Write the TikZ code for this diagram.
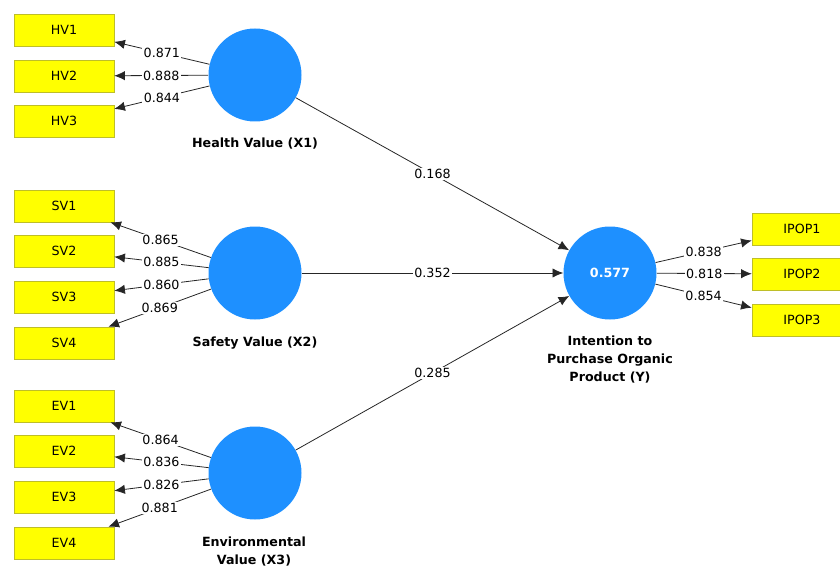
\documentclass[tikz,border=0pt]{standalone}
\usepackage{fontspec}
\setmainfont{DejaVu Sans}
\usepackage{tikz}
\usetikzlibrary{positioning,arrows.meta}
\definecolor{lvblue}{RGB}{30,144,255}
\definecolor{mvyellow}{RGB}{255,255,0}
\definecolor{mvedge}{RGB}{190,190,40}

\begin{document}
\begin{tikzpicture}[x=0.75pt,y=-0.75pt,
  every node/.style={font=\fontsize{9.5}{11}\selectfont},
  mv/.style={rectangle,draw=mvedge,fill=mvyellow,minimum width=75pt,minimum height=24pt,inner sep=0pt},
  lv/.style={circle,fill=lvblue,minimum size=69.75pt,inner sep=0pt},
  lvname/.style={align=center,font=\fontsize{9.5}{13.5}\selectfont\bfseries},
  weight/.style={fill=white,inner sep=1pt,midway},
  arc/.style={draw=black!85,line width=0.6pt,-{Latex[length=8pt,width=7pt]}}]
\useasboundingbox (0,0) rectangle (840,567);
% latent variables
\node [lv] (x1) at (255,75) {};
\node [lv] (x2) at (255,273) {};
\node [lv] (x3) at (255,473) {};
\node [lv,text=white,font=\fontsize{9.5}{11}\selectfont\bfseries] (y) at (610,273) {0.577};
\node [lvname] (nx1) at (255,144) {Health Value (X1)};
\node [lvname] (nx2) at (255,343) {Safety Value (X2)};
\node [lvname] (nx3) at (254,552) {Environmental\\Value (X3)};
\node [lvname] (ny) at (610,360) {Intention to\\Purchase Organic\\Product (Y)};
% indicators
\node [mv] (hv1) at (64,30) {HV1};
\node [mv] (hv2) at (64,76) {HV2};
\node [mv] (hv3) at (64,121) {HV3};
\node [mv] (sv1) at (64,206) {SV1};
\node [mv] (sv2) at (64,251) {SV2};
\node [mv] (sv3) at (64,297) {SV3};
\node [mv] (sv4) at (64,343) {SV4};
\node [mv] (ev1) at (64,406) {EV1};
\node [mv] (ev2) at (64,451) {EV2};
\node [mv] (ev3) at (64,497) {EV3};
\node [mv] (ev4) at (64,543) {EV4};
\node [mv] (ip1) at (802,229) {IPOP1};
\node [mv] (ip2) at (802,274) {IPOP2};
\node [mv] (ip3) at (802,320) {IPOP3};
% outer loadings
\foreach \a/\b/\v in {x1/hv1/0.871,x1/hv2/0.888,x1/hv3/0.844,
    x2/sv1/0.865,x2/sv2/0.885,x2/sv3/0.860,x2/sv4/0.869,
    x3/ev1/0.864,x3/ev2/0.836,x3/ev3/0.826,x3/ev4/0.881,
    y/ip1/0.838,y/ip2/0.818,y/ip3/0.854}
  \draw [arc] (\a) -- (\b) node [weight] {\v};
% path coefficients
\draw [arc] (x1) -- (y) node [weight] {0.168};
\draw [arc] (x2) -- (y) node [weight] {0.352};
\draw [arc] (x3) -- (y) node [weight] {0.285};
\end{tikzpicture}
\end{document}
